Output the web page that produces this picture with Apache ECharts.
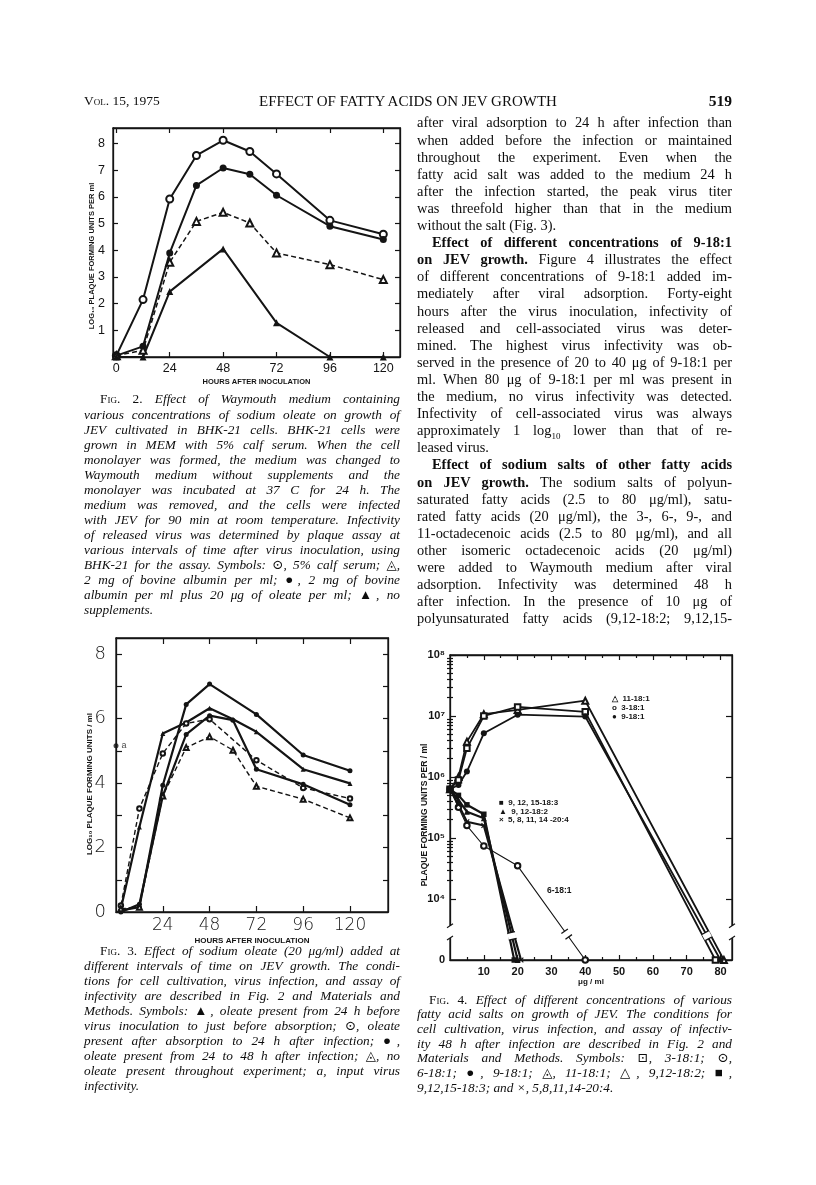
<!DOCTYPE html>
<html><head><meta charset="utf-8">
<script src="https://cdn.jsdelivr.net/npm/echarts@6/dist/echarts.min.js"></script>
<style>
html,body{margin:0;padding:0;background:#fff;}
#page{position:relative;width:816px;height:1185px;overflow:hidden;background:#fff;}
#chart{position:absolute;left:0;top:0;width:816px;height:1185px;}
.ln{position:absolute;white-space:nowrap;text-align:justify;text-align-last:justify;color:#0d0d0d;
    font-family:"Liberation Serif","DejaVu Serif",serif;transform-origin:left center;}
.ln.last{text-align-last:left;}
.it{font-style:italic;}
.n{font-style:normal;}
.sc{font-variant:small-caps;}
.hd{position:absolute;white-space:nowrap;font-family:"Liberation Serif","DejaVu Serif",serif;color:#0d0d0d;}
</style></head>
<body><div id="page"><div id="chart"></div></div>
<script>
// ================= DATA =================
// Fig. 2  (log10 PFU/ml vs hours after inoculation)
const fig2Hours        = [0, 12, 24, 36, 48, 60, 72, 96, 120];
const fig2CalfSerum    = [0.05, 2.15, 5.92, 7.55, 8.12, 7.7, 6.86, 5.12, 4.6];
const fig2AlbOleate    = [0.05, 0.4, 3.9, 6.43, 7.08, 6.85, 6.06, 4.9, 4.4];
const fig2Albumin      = [0.05, 0.25, 3.55, 5.08, 5.42, 5.02, 3.9, 3.46, 2.9];
const fig2NoSuppHours  = [0, 12, 24, 48, 72, 96, 120];
const fig2NoSupp       = [0, 0, 2.45, 4.05, 1.28, 0, 0];
const fig2XTicks = [0, 24, 48, 72, 96, 120];
const fig2YTicks = [1, 2, 3, 4, 5, 6, 7, 8];

// Fig. 3
const fig3Hours   = [2.5, 12, 24, 36, 48, 60, 72, 96, 120];
const fig3LineA   = [0.05, 0.15, 3.93, 6.44, 7.07, null, 6.13, 4.87, 4.38];
const fig3LineB   = [0.1, 2.64, 5.54, 5.88, 6.32, 5.98, 5.59, 4.43, 3.99];
const fig3LineC   = [0.2, 3.21, 4.92, 5.85, 5.98, null, 4.71, 3.85, 3.52];
const fig3LineD   = [0.0, 0.24, 3.6, 5.51, 6.09, 5.95, 4.43, 3.96, 3.33];
const fig3LineE   = [0.1, 0.15, 3.6, 5.1, 5.44, 5.02, 3.9, 3.5, 2.92];
const fig3Input   = [0, 5.16];
const fig3XTicks  = [24, 48, 72, 96, 120];
const fig3YTicks  = [1, 2, 3, 4, 5, 6, 7, 8];
const fig3YLabels = [0, 2, 4, 6, 8];

// Fig. 4  (PFU/ml vs ug/ml ; 0 = none detected)
const fig4Dose11  = [0, 2.5, 5, 10, 20, 40, 81];
const fig4Pfu11   = [6.3e5, 1.0e6, 3.8e6, 1.07e7, 1.26e7, 1.78e7, 0];
const fig4Dose3   = [0, 2.5, 5, 10, 20, 40, 78.5];
const fig4Pfu3    = [6.3e5, 8.9e5, 2.95e6, 1.0e7, 1.41e7, 1.17e7, 0];
const fig4Dose9   = [0, 2.5, 5, 10, 20, 40, 80];
const fig4Pfu9    = [6.3e5, 7.4e5, 1.23e6, 5.2e6, 1.05e7, 9.8e6, 0];
const fig4Dose6   = [0, 2.5, 5, 10, 20, 40];
const fig4Pfu6    = [6.3e5, 3.2e5, 1.6e5, 7.4e4, 3.5e4, 0];
const fig4Dose183 = [0, 2.5, 5, 10, 19];
const fig4Pfu183  = [6.3e5, 5.0e5, 3.5e5, 2.45e5, 0];
const fig4Dose182 = [0, 2.5, 5, 10, 20];
const fig4Pfu182  = [6.3e5, 4.2e5, 2.7e5, 2.1e5, 0];
const fig4Dose204 = [0, 2.5, 5, 10, 21];
const fig4Pfu204  = [6.3e5, 3.5e5, 1.85e5, 1.6e5, 0];
const fig4XTicks  = [10, 20, 30, 40, 50, 60, 70, 80];
const fig4XMinor  = [5, 15, 25, 35, 45, 55, 65, 75];
const fig4YDecades = [4, 5, 6, 7, 8];
const fig4YLabels = [3, 4, 5, 6, 7, 8];   // 3 is the "0" baseline
const fig4Breaks  = [{s: '9-18:1', d: 76}, {s: '6-18:1', d: 34.5}, {s: '9,12-18:2', d: 18.3}];

// ================= TEXT =================
const headerLeft = '<span class="sc">Vol</span>. 15, 1975';
const headerMid = 'EFFECT OF FATTY ACIDS ON JEV GROWTH';
const headerRight = '519';

const cap2Lines = [
 '^<span class="n"><span class="sc">Fig</span>. 2.</span> Effect of Waymouth medium containing',
 'various concentrations of sodium oleate on growth of',
 'JEV cultivated in BHK-21 cells. BHK-21 cells were',
 'grown in MEM with 5% calf serum. When the cell',
 'monolayer was formed, the medium was changed to',
 'Waymouth medium without supplements and the',
 'monolayer was incubated at 37 C for 24 h. The',
 'medium was removed, and the cells were infected',
 'with JEV for 90 min at room temperature. Infectivity',
 'of released virus was determined by plaque assay at',
 'various intervals of time after virus inoculation, using',
 'BHK-21 for the assay. Symbols: <span class="n">⊙</span>, 5% calf serum; <span class="n">◬</span>,',
 '2 mg of bovine albumin per ml; <span class="n">●</span>, 2 mg of bovine',
 'albumin per ml plus 20 μg of oleate per ml; <span class="n">▲</span>, no',
 'supplements.$'
];
const cap3Lines = [
 '^<span class="n"><span class="sc">Fig</span>. 3.</span> Effect of sodium oleate (20 μg/ml) added at',
 'different intervals of time on JEV growth. The condi-',
 'tions for cell cultivation, virus infection, and assay of',
 'infectivity are described in Fig. 2 and Materials and',
 'Methods. Symbols: <span class="n">▲</span>, oleate present from 24 h before',
 'virus inoculation to just before absorption; <span class="n">⊙</span>, oleate',
 'present after absorption to 24 h after infection; <span class="n">●</span>,',
 'oleate present from 24 to 48 h after infection; <span class="n">◬</span>, no',
 'oleate present throughout experiment; a, input virus',
 'infectivity.$'
];
const bodyLines = [
 'after viral adsorption to 24 h after infection than',
 'when added before the infection or maintained',
 'throughout the experiment. Even when the',
 'fatty acid salt was added to the medium 24 h',
 'after the infection started, the peak virus titer',
 'was threefold higher than that in the medium',
 'without the salt (Fig. 3).$',
 '^<b>Effect of different concentrations of 9-18:1</b>',
 '<b>on JEV growth.</b> Figure 4 illustrates the effect',
 'of different concentrations of 9-18:1 added im-',
 'mediately after viral adsorption. Forty-eight',
 'hours after the virus inoculation, infectivity of',
 'released and cell-associated virus was deter-',
 'mined. The highest virus infectivity was ob-',
 'served in the presence of 20 to 40 μg of 9-18:1 per',
 'ml. When 80 μg of 9-18:1 per ml was present in',
 'the medium, no virus infectivity was detected.',
 'Infectivity of cell-associated virus was always',
 'approximately 1 log<sub style="font-size:9px">10</sub> lower than that of re-',
 'leased virus.$',
 '^<b>Effect of sodium salts of other fatty acids</b>',
 '<b>on JEV growth.</b> The sodium salts of polyun-',
 'saturated fatty acids (2.5 to 80 μg/ml), satu-',
 'rated fatty acids (20 μg/ml), the 3-, 6-, 9-, and',
 '11-octadecenoic acids (2.5 to 80 μg/ml), and all',
 'other isomeric octadecenoic acids (20 μg/ml)',
 'were added to Waymouth medium after viral',
 'adsorption. Infectivity was determined 48 h',
 'after infection. In the presence of 10 μg of',
 'polyunsaturated fatty acids (9,12-18:2; 9,12,15-'
];
const cap4Lines = [
 '^<span class="n"><span class="sc">Fig</span>. 4.</span> Effect of different concentrations of various',
 'fatty acid salts on growth of JEV. The conditions for',
 'cell cultivation, virus infection, and assay of infectiv-',
 'ity 48 h after infection are described in Fig. 2 and',
 'Materials and Methods. Symbols: <span class="n">⊡</span>, 3-18:1; <span class="n">⊙</span>,',
 '6-18:1; <span class="n">●</span>, 9-18:1; <span class="n">◬</span>, 11-18:1; <span class="n">△</span>, 9,12-18:2; <span class="n">■</span>,',
 '9,12,15-18:3; and ×, 5,8,11,14-20:4.$'
];

// ================= TEXT LAYOUT =================
const page = document.getElementById('page');
function hd(html, style){ const d=document.createElement('div'); d.className='hd'; d.innerHTML=html; Object.assign(d.style, style); page.appendChild(d); return d; }
hd(headerLeft, {left:'84px', top:'93px', fontSize:'13.5px', lineHeight:'16px'});
hd(headerMid, {left:'0px', width:'816px', textAlign:'center', top:'92px', fontSize:'15px', lineHeight:'18px'});
hd(headerRight, {left:'632px', width:'100px', textAlign:'right', top:'92px', fontSize:'15.5px', lineHeight:'18px', fontWeight:'bold'});

function block(lines, x, y0, w, lh, fs, italic, indent){
  lines.forEach((raw, i) => {
    let s = raw, last = false, ind = 0;
    if (s.startsWith('^')) { s = s.slice(1); ind = indent; }
    if (s.endsWith('$')) { s = s.slice(0, -1); last = true; }
    const d = document.createElement('div');
    d.className = 'ln' + (last ? ' last' : '') + (italic ? ' it' : '');
    d.innerHTML = s;
    const ww = w - ind;
    Object.assign(d.style, {left:(x+ind)+'px', top:(y0 + i*lh - lh/2)+'px', width:ww+'px',
      height:lh+'px', lineHeight:lh+'px', fontSize:fs+'px'});
    page.appendChild(d);
    if (d.scrollWidth > ww + 0.5) d.style.transform = 'scaleX(' + (ww/d.scrollWidth) + ')';
  });
}
block(cap2Lines, 84, 399, 316, 15.07, 13.3, true, 16);
block(cap3Lines, 84, 950, 316, 15.0, 13.3, true, 16);
block(bodyLines, 417, 123, 315, 17.1, 14.4, false, 15);
block(cap4Lines, 417, 1000, 315, 14.65, 13.3, true, 12);

// ================= CHARTS =================
const chart = echarts.init(document.getElementById('chart'), null, {renderer:'canvas'});
const K = '#141414';
const SANS = 'Liberation Sans';
const axLine = {show:true, onZero:false, lineStyle:{color:K, width:1.3}};
function tk(vals, len){ return {show:true, inside:true, length:len, customValues:vals, lineStyle:{color:K, width:1.2}}; }
function ax(o){ return Object.assign({type:'value', splitLine:{show:false}, axisLine:{show:false}, axisTick:{show:false}, axisLabel:{show:false}, silent:true}, o); }
const log10 = v => v > 0 ? Math.log10(v) : 3;
const pairs = (xs, ys) => xs.map((x, i) => [x, ys[i]]).filter(p => p[1] !== null);
const logPairs = (xs, ys) => xs.map((x, i) => [x, log10(ys[i])]);
const fig4Minor = [];
for (let n = 4; n < 8; n++) for (let k = 2; k <= 9; k++) fig4Minor.push(n + Math.log10(k));
const sup = {4:'⁴',5:'⁵',6:'⁶',7:'⁷',8:'⁸'};

const F2 = {min:-1.5, max:127.5}, F2Y = {min:0, max:8.58};
const F3 = {min:0, max:139.5}, F3Y = {min:0, max:8.5};
const F4 = {min:0, max:83.4}, F4Y = {min:3, max:8};

const grids = [
  {left:113, top:128, width:287, height:229},
  {left:116, top:638, width:272, height:274},
  {left:450, top:655, width:282, height:305}
].map(g => Object.assign(g, {show:true, borderColor:K, borderWidth:1.3, outerBoundsMode:'none', containLabel:false}));

const xAxis = [
  ax(Object.assign({gridIndex:0, position:'bottom', axisLine:axLine, axisTick:tk(fig2XTicks,5),
     axisLabel:{show:true, customValues:fig2XTicks, margin:5, fontSize:12.5, fontFamily:SANS, color:K},
     name:'HOURS AFTER INOCULATION', nameLocation:'middle', nameGap:21,
     nameTextStyle:{fontSize:7.5, fontWeight:'bold', fontFamily:SANS, color:K}}, F2)),
  ax(Object.assign({gridIndex:0, position:'top', axisLine:axLine, axisTick:tk(fig2XTicks,5)}, F2)),
  ax(Object.assign({gridIndex:1, position:'bottom', axisLine:axLine, axisTick:tk(fig3XTicks,6),
     axisLabel:{show:true, customValues:fig3XTicks, margin:5, fontSize:17, fontFamily:'DejaVu Sans', fontWeight:200, color:K},
     name:'HOURS AFTER INOCULATION', nameLocation:'middle', nameGap:25,
     nameTextStyle:{fontSize:8, fontWeight:'bold', fontFamily:SANS, color:K}}, F3)),
  ax(Object.assign({gridIndex:1, position:'top', axisLine:axLine, axisTick:tk(fig3XTicks,6)}, F3)),
  ax(Object.assign({gridIndex:2, position:'bottom', axisLine:axLine, axisTick:tk(fig4XTicks,5),
     axisLabel:{show:true, customValues:fig4XTicks, margin:6, fontSize:11, fontWeight:'bold', fontFamily:SANS, color:K},
     name:'μg / ml', nameLocation:'middle', nameGap:18,
     nameTextStyle:{fontSize:8, fontWeight:'bold', fontFamily:SANS, color:K}}, F4)),
  ax(Object.assign({gridIndex:2, position:'top', axisLine:axLine, axisTick:tk(fig4XTicks,5)}, F4)),
  ax(Object.assign({gridIndex:2, position:'bottom', axisTick:tk(fig4XMinor,3)}, F4)),
  ax(Object.assign({gridIndex:2, position:'top', axisTick:tk(fig4XMinor,3)}, F4))
];
const yAxis = [
  ax(Object.assign({gridIndex:0, position:'left', axisLine:axLine, axisTick:tk(fig2YTicks,5),
     axisLabel:{show:true, customValues:fig2YTicks, margin:8, fontSize:12.5, fontFamily:SANS, color:K}}, F2Y)),
  ax(Object.assign({gridIndex:0, position:'right', axisLine:axLine, axisTick:tk(fig2YTicks,5)}, F2Y)),
  ax(Object.assign({gridIndex:1, position:'left', axisLine:axLine, axisTick:tk(fig3YTicks,6),
     axisLabel:{show:true, customValues:fig3YLabels, margin:10, fontSize:18, fontFamily:'DejaVu Sans', fontWeight:200, color:K}}, F3Y)),
  ax(Object.assign({gridIndex:1, position:'right', axisLine:axLine, axisTick:tk(fig3YTicks,5)}, F3Y)),
  ax(Object.assign({gridIndex:2, position:'left', axisLine:axLine, axisTick:tk(fig4YDecades,6),
     axisLabel:{show:true, customValues:fig4YLabels, margin:5, fontSize:11, fontWeight:'bold', fontFamily:SANS, color:K,
       formatter: v => (Math.abs(v-3) < 1e-6 ? '0' : '10' + sup[Math.round(v)])}}, F4Y)),
  ax(Object.assign({gridIndex:2, position:'right', axisLine:axLine, axisTick:tk(fig4YDecades,6)}, F4Y)),
  ax(Object.assign({gridIndex:2, position:'left', axisTick:tk(fig4Minor,3)}, F4Y)),
  ax(Object.assign({gridIndex:2, position:'right', axisTick:tk(fig4Minor,3)}, F4Y))
];

const XPATH = 'path://M0,1.5L1.5,0L5,3.5L8.5,0L10,1.5L6.5,5L10,8.5L8.5,10L5,6.5L1.5,10L0,8.5L3.5,5Z';
function ser(name, data, xi, yi, sym, size, lw, dashed, extra){
  return Object.assign({
    name, type:'line', data, xAxisIndex:xi, yAxisIndex:yi, symbol:sym, symbolSize:size,
    showAllSymbol:true, connectNulls:true, animation:false, silent:true, clip:false,
    lineStyle:{color:K, width:lw, type: dashed ? [5,3] : 'solid'},
    itemStyle:{color:K, borderColor:K, borderWidth: sym.startsWith('empty') ? 1.2 : 0}
  }, extra || {});
}

const series = [
  ser('5% calf serum', pairs(fig2Hours, fig2CalfSerum), 0, 0, 'emptyCircle', 7, 2, false),
  ser('albumin + oleate', pairs(fig2Hours, fig2AlbOleate), 0, 0, 'circle', 7, 2, false),
  ser('albumin', pairs(fig2Hours, fig2Albumin), 0, 0, 'emptyTriangle', 7, 1.5, true),
  ser('no supplements', pairs(fig2NoSuppHours, fig2NoSupp), 0, 0, 'triangle', 7, 2, false),
  ser('A', pairs(fig3Hours, fig3LineA), 2, 2, 'circle', 5, 2.2, false),
  ser('B', pairs(fig3Hours, fig3LineB), 2, 2, 'triangle', 5, 2.2, false),
  ser('C', pairs(fig3Hours, fig3LineC), 2, 2, 'emptyCircle', 4.5, 1.4, true),
  ser('D', pairs(fig3Hours, fig3LineD), 2, 2, 'circle', 5, 2.2, false),
  ser('E', pairs(fig3Hours, fig3LineE), 2, 2, 'emptyTriangle', 5, 1.4, true),
  {name:'input', type:'scatter', xAxisIndex:2, yAxisIndex:2, data:[fig3Input], symbol:'circle', symbolSize:5,
   itemStyle:{color:K}, silent:true, animation:false, clip:false,
   label:{show:true, formatter:'a', position:'right', distance:3, fontSize:9, fontFamily:SANS, color:K}},
  ser('11-18:1', logPairs(fig4Dose11, fig4Pfu11), 4, 4, 'emptyTriangle', 6, 1.8, false),
  ser('3-18:1', logPairs(fig4Dose3, fig4Pfu3), 4, 4, 'emptyRect', 5.5, 1.8, false),
  ser('9-18:1', logPairs(fig4Dose9, fig4Pfu9), 4, 4, 'circle', 6, 1.8, false),
  ser('6-18:1', logPairs(fig4Dose6, fig4Pfu6), 4, 4, 'emptyCircle', 5.5, 1.1, false),
  ser('9,12,15-18:3', logPairs(fig4Dose183, fig4Pfu183), 4, 4, 'rect', 5.5, 2.2, false),
  ser('9,12-18:2', logPairs(fig4Dose182, fig4Pfu182), 4, 4, 'triangle', 6, 2.2, false),
  ser('5,8,11,14-20:4', logPairs(fig4Dose204, fig4Pfu204), 4, 4, XPATH, 5.5, 2.2, false)
];

function vtext(text, x, y, fs){
  return {type:'text', x, y, rotation:Math.PI/2, z:50, silent:true,
    style:{text, fontSize:fs, fontWeight:'bold', fontFamily:SANS, fill:K, align:'center', verticalAlign:'middle'}};
}
function ptext(text, x, y, fs){
  return {type:'text', x, y, z:50, silent:true,
    style:{text, fontSize:fs, fontFamily:SANS, fontWeight:'bold', fill:K, align:'left', verticalAlign:'middle'}};
}
const graphic = [
  vtext('LOG₁₀ PLAQUE FORMING UNITS PER ml', 92, 256, 7.5),
  vtext('LOG₁₀ PLAQUE FORMING UNITS / ml', 90, 784, 8),
  vtext('PLAQUE FORMING UNITS PER / ml', 425, 815, 8.5),
  ptext('△  11-18:1', 612, 699, 8),
  ptext('o  3-18:1', 612, 708, 8),
  ptext('●  9-18:1', 612, 717, 8),
  ptext('■  9, 12, 15-18:3', 499, 803, 8),
  ptext('▲  9, 12-18:2', 499, 811.5, 8),
  ptext('×  5, 8, 11, 14 -20:4', 499, 820, 8),
  ptext('6-18:1', 547, 891, 8.5)
];

chart.setOption({animation:false, backgroundColor:'transparent', grid:grids, xAxis, yAxis, series, graphic});

// ---- axis & line break marks (Fig 4), positioned through the chart's own scales ----
const f4Idx = series.findIndex(s => s.name === '11-18:1');
const toPx = v => chart.convertToPixel({seriesIndex:f4Idx}, v);
const extra = [];
[0, F4.max].forEach(xv => {
  const a = toPx([xv, 3.56]), b = toPx([xv, 3.36]);
  extra.push({type:'rect', z:60, silent:true, shape:{x:a[0]-4, y:a[1], width:8, height:b[1]-a[1]}, style:{fill:'#fff'}});
  [a, b].forEach(p => extra.push({type:'line', z:61, silent:true,
     shape:{x1:p[0]-3, y1:p[1]+2, x2:p[0]+3, y2:p[1]-2}, style:{stroke:K, lineWidth:1.2}}));
});
fig4Breaks.forEach(br => {
  const s = series.find(q => q.name === br.s);
  const d = s.data;
  for (let i = 0; i < d.length - 1; i++) {
    if (br.d >= d[i][0] && br.d <= d[i+1][0]) {
      const t = (br.d - d[i][0]) / (d[i+1][0] - d[i][0]);
      const yv = d[i][1] + t * (d[i+1][1] - d[i][1]);
      const p = toPx([br.d, yv]), p1 = toPx(d[i]), p2 = toPx(d[i+1]);
      const ang = Math.atan2(p2[1]-p1[1], p2[0]-p1[0]);
      extra.push({type:'group', x:p[0], y:p[1], rotation:-ang, z:62, silent:true, children:[
        {type:'rect', shape:{x:-3.5, y:-4, width:7, height:8}, style:{fill:'#fff'}, z:62},
        {type:'line', shape:{x1:-3.5, y1:-4, x2:-3.5, y2:4}, style:{stroke:K, lineWidth:1.3}, z:63},
        {type:'line', shape:{x1:3.5, y1:-4, x2:3.5, y2:4}, style:{stroke:K, lineWidth:1.3}, z:63}
      ]});
      break;
    }
  }
});
chart.setOption({graphic: graphic.concat(extra)});
</script>
</body></html>
